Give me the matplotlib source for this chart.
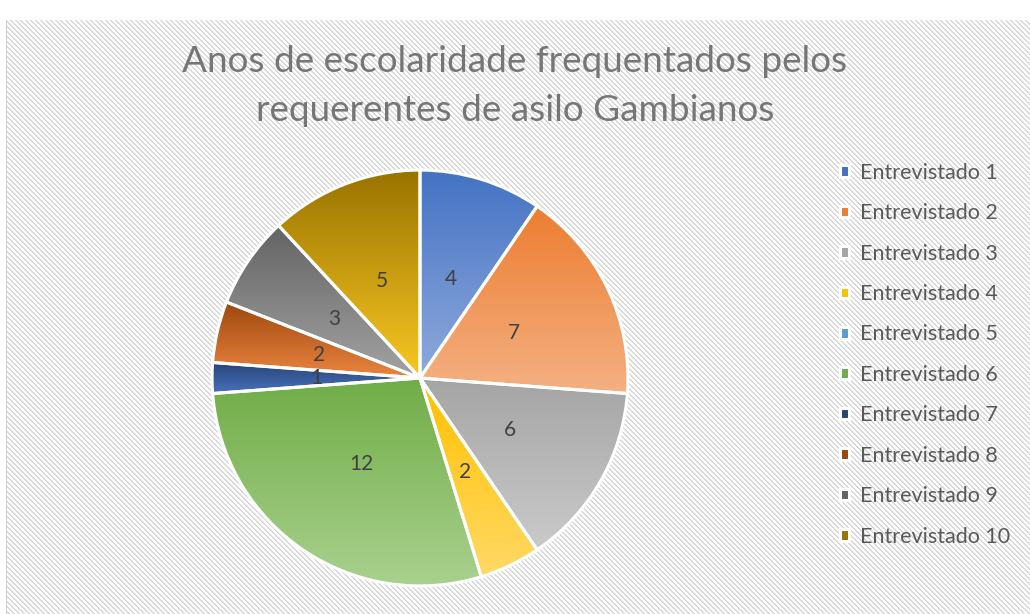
import numpy as np
import matplotlib
matplotlib.use("Agg")
import matplotlib.pyplot as plt
from matplotlib.colors import to_rgb

plt.rcParams['font.family'] = ['Lato', 'DejaVu Sans']

# data
labels = ["Entrevistado 1", "Entrevistado 2", "Entrevistado 3", "Entrevistado 4",
          "Entrevistado 5", "Entrevistado 6", "Entrevistado 7", "Entrevistado 8",
          "Entrevistado 9", "Entrevistado 10"]
anos = [4, 7, 6, 2, 0, 12, 1, 2, 3, 5]
title = "Anos de escolaridade frequentados pelos\nrequerentes de asilo Gambianos"

# gradient colours, top -> bottom of each slice
top_colors = ['#4472C4', '#ED7D31', '#A5A5A5', '#FFC000', '#5B9BD5',
              '#70AD47', '#264478', '#9E480E', '#636363', '#997300']
bottom_colors = ['#8FAADC', '#F4B183', '#CACACA', '#FFD966', '#9DC3E6',
                 '#A9D18E', '#4A72BC', '#EC8540', '#A3A3A3', '#F9C823']

W, H = 1030, 614
fig = plt.figure(figsize=(W / 100, H / 100), dpi=100)
fig.patch.set_facecolor('white')

# hatched chart background
yy, xx = np.mgrid[0:H, 0:W]
bg = np.ones((H, W, 3))
stripe = ((xx - yy) % 5) < 2
bg[stripe] = to_rgb('#d9d9d9')
bg[:20, :] = 1.0
bg[:, :6] = 1.0
bg[20:, 6] = to_rgb('#cfcfcf')
fig.figimage(bg, xo=0, yo=0, origin='upper', zorder=-5)

# pie axes: centre (420, 378) px, radius 210 px
cx, cy, r = 420, 378, 210
ax = fig.add_axes([(cx - r) / W, (H - cy - r) / H, 2 * r / W, 2 * r / H])
ax.set_facecolor('none')

wedges, texts = ax.pie(
    anos, startangle=90, counterclock=False, radius=1,
    colors=top_colors,
    wedgeprops=dict(edgecolor='white', linewidth=2.2),
)

for w, v in zip(wedges, anos):
    if v == 0:
        continue
    ang = np.deg2rad((w.theta1 + w.theta2) / 2)
    ax.text(0.5 * np.cos(ang), 0.5 * np.sin(ang), str(v),
            ha='center', va='center', fontsize=15, color='#404040', zorder=5)

leg = fig.legend(wedges, labels, loc='upper left',
                 bbox_to_anchor=(831 / W, 1 - 154 / H), frameon=False,
                 fontsize=15.5, labelcolor='#595959', handlelength=0.45,
                 handleheight=0.45, handletextpad=0.5, labelspacing=0.95,
                 borderaxespad=0)

# gradient fill per slice
for w, v, c0, c1 in zip(wedges, anos, top_colors, bottom_colors):
    if v == 0:
        w.set_visible(False)
        continue
    ext = w.get_path().get_extents()
    grad = np.linspace(0, 1, 256)[:, None, None]
    img = (1 - grad) * np.array(to_rgb(c0)) + grad * np.array(to_rgb(c1))
    im = ax.imshow(img, extent=(ext.x0, ext.x1, ext.y0, ext.y1),
                   origin='upper', aspect='auto', zorder=1, interpolation='bilinear')
    im.set_clip_path(w)
    w.set_facecolor('none')
    w.set_zorder(2)

ax.set_xlim(-1.01, 1.01)
ax.set_ylim(-1.01, 1.01)
ax.set_aspect('equal')
ax.axis('off')

fig.text(515 / W, 1 - 86 / H, title, ha='center', va='center',
         fontsize=26.6, color='#767676', linespacing=1.62)

fig.savefig("out.png", dpi=100)
